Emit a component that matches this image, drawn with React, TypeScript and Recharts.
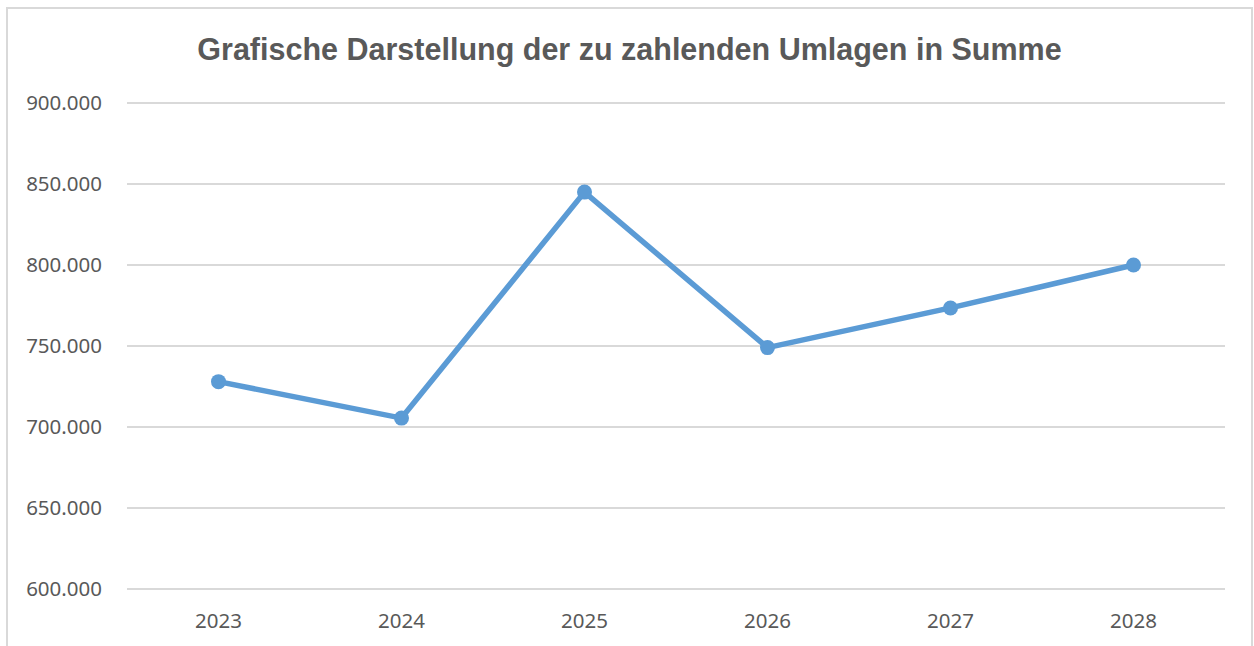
import React from "react";
import { LineChart, Line, XAxis, YAxis, CartesianGrid } from "recharts";

const years = ["2023", "2024", "2025", "2026", "2027", "2028"];
const umlagen = [728000, 705500, 845000, 749000, 773500, 800000];
const yTicks = [600000, 650000, 700000, 750000, 800000, 850000, 900000];

const data = years.map((year, i) => ({ year, value: umlagen[i] }));

// German thousands separator: 900000 -> "900.000"
const fmt = (v: number) =>
  String(Math.round(v)).replace(/\B(?=(\d{3})+(?!\d))/g, ".");

const tickStyle = {
  fontSize: 20.5,
  fill: "#595959",
  fontFamily: "'Noto Sans', sans-serif",
};

export default function App() {
  return (
    <div
      style={{
        position: "fixed",
        left: 0,
        top: 0,
        width: 1254,
        height: 646,
        overflow: "hidden",
        background: "#fff",
      }}
    >
      <div
        style={{
          position: "absolute",
          left: 6,
          top: 7,
          width: 1243,
          height: 700,
          border: "2px solid #d9d9d9",
        }}
      />
      <div
        style={{
          position: "absolute",
          left: 0,
          top: 32,
          width: 1259,
          textAlign: "center",
          fontFamily: "'Liberation Sans', Arial, sans-serif",
          fontWeight: "bold",
          fontSize: 30.5,
          color: "#595959",
          whiteSpace: "nowrap",
        }}
      >
        Grafische Darstellung der zu zahlenden Umlagen in Summe
      </div>
      <div style={{ position: "absolute", left: 0, top: 0 }}>
        <LineChart
          width={1254}
          height={646}
          data={data}
          margin={{ top: 103, right: 29, bottom: 27, left: 27 }}
        >
          <CartesianGrid vertical={false} stroke="#d9d9d9" strokeWidth={2} />
          <XAxis
            dataKey="year"
            height={30}
            padding={{ left: 91.5, right: 91.5 }}
            axisLine={false}
            tickLine={false}
            tickSize={0}
            tickMargin={24}
            tick={tickStyle}
          />
          <YAxis
            width={100}
            domain={[600000, 900000]}
            ticks={yTicks}
            tickFormatter={fmt}
            axisLine={false}
            tickLine={false}
            tickSize={0}
            tickMargin={25}
            tick={tickStyle}
          />
          <Line
            type="linear"
            dataKey="value"
            stroke="#5b9bd5"
            strokeWidth={5.5}
            dot={{ r: 7.5, fill: "#5b9bd5", stroke: "none" }}
            isAnimationActive={false}
          />
        </LineChart>
      </div>
    </div>
  );
}
